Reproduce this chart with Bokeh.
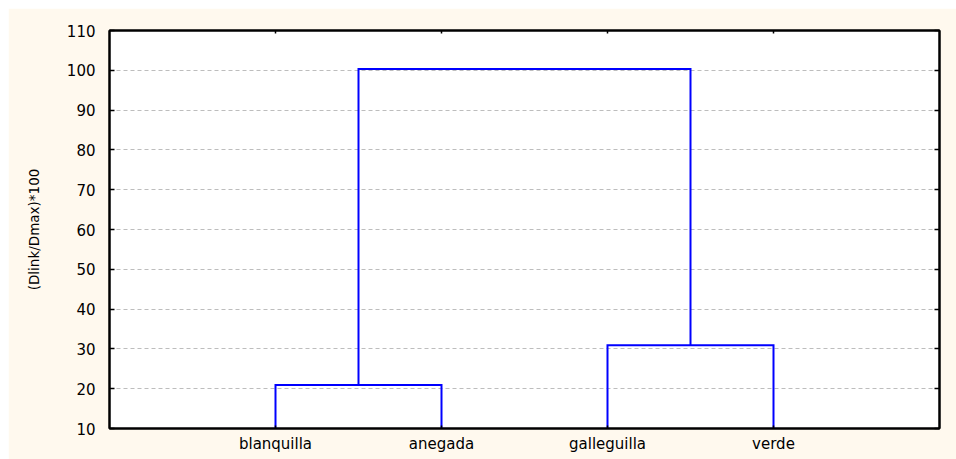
from bokeh.plotting import figure
from bokeh.models import LinearAxis, FixedTicker
from bokeh.embed import file_html
from bokeh.resources import INLINE

# ---- data ----
leaves = ["blanquilla", "anegada", "galleguilla", "verde"]
# linkage: (left cluster id, right cluster id, height); ids >= len(leaves) are earlier merges
link_left = [0, 2, 4]
link_right = [1, 3, 5]
link_height = [20.9, 30.9, 100.3]
y_ticks = [10, 20, 30, 40, 50, 60, 70, 80, 90, 100, 110]
y_label = "(Dlink/Dmax)*100"

# ---- build dendrogram segments from linkage ----
n = len(leaves)
leaf_x = [i + 1 for i in range(n)]
node_x = {i: leaf_x[i] for i in range(n)}
node_y = {i: y_ticks[0] for i in range(n)}
xs, ys = [], []
for k, (a, b, h) in enumerate(zip(link_left, link_right, link_height)):
    xa, xb = node_x[a], node_x[b]
    xs.append([xa, xa, xb, xb])
    ys.append([node_y[a], h, h, node_y[b]])
    node_x[n + k] = (xa + xb) / 2
    node_y[n + k] = h

BG = "#FFF9EE"
FONT = "DejaVu Sans"

p = figure(width=948, height=451, x_range=(0, len(leaves) + 1), y_range=(y_ticks[0], y_ticks[-1]),
           output_backend="svg", toolbar_location=None,
           min_border_left=101, min_border_right=17, min_border_top=22, min_border_bottom=31)
p.margin = (8, 0, 0, 8)
p.background_fill_color = "white"
p.border_fill_color = BG
p.outline_line_color = "black"
p.outline_line_width = 2

p.multi_line(xs=xs, ys=ys, line_color="#0000FF", line_width=2, line_join="miter")

yt = FixedTicker(ticks=y_ticks, num_minor_ticks=5)
xt = FixedTicker(ticks=leaf_x)

# left axis
ya = p.yaxis[0]
ya.ticker = yt
ya.axis_label = y_label
ya.axis_label_text_font = FONT
ya.axis_label_text_font_size = "13.5px"
ya.axis_label_text_font_style = "normal"
ya.axis_label_text_color = "black"
ya.axis_label_standoff = 22
ya.major_label_text_font = FONT
ya.major_label_text_font_size = "15px"
ya.major_label_text_color = "black"
ya.major_label_standoff = 14
ya.major_tick_in = 5
ya.major_tick_out = 0
ya.minor_tick_in = 3
ya.minor_tick_out = 0
ya.axis_line_width = 2
ya.major_tick_line_width = 1.5

# bottom axis
xa = p.xaxis[0]
xa.ticker = xt
xa.major_label_overrides = {x: name for x, name in zip(leaf_x, leaves)}
xa.major_label_text_font = FONT
xa.major_label_text_font_size = "15px"
xa.major_label_text_color = "black"
xa.major_label_standoff = 6
xa.major_tick_in = 3
xa.major_tick_out = 0
xa.minor_tick_line_color = None
xa.axis_line_width = 2
xa.major_tick_line_width = 1.5

# right axis
ra = LinearAxis(ticker=FixedTicker(ticks=y_ticks), major_label_text_font_size="0px",
                major_tick_in=5, major_tick_out=0, minor_tick_line_color=None,
                axis_line_width=2, major_tick_line_width=1.5)
ra.major_label_text_color = None
p.add_layout(ra, "right")

# top axis
ta = LinearAxis(ticker=FixedTicker(ticks=leaf_x), major_label_text_font_size="0px",
                major_tick_in=3, major_tick_out=0, minor_tick_line_color=None,
                axis_line_width=2, major_tick_line_width=1.5)
ta.major_label_text_color = None
p.add_layout(ta, "above")

p.xgrid.grid_line_color = None
p.ygrid.ticker = FixedTicker(ticks=y_ticks)
p.ygrid.grid_line_color = "#BDBDBD"
p.ygrid.grid_line_dash = "4 3"
p.ygrid.grid_line_width = 1

open("out.html", "w").write(file_html(p, INLINE))
